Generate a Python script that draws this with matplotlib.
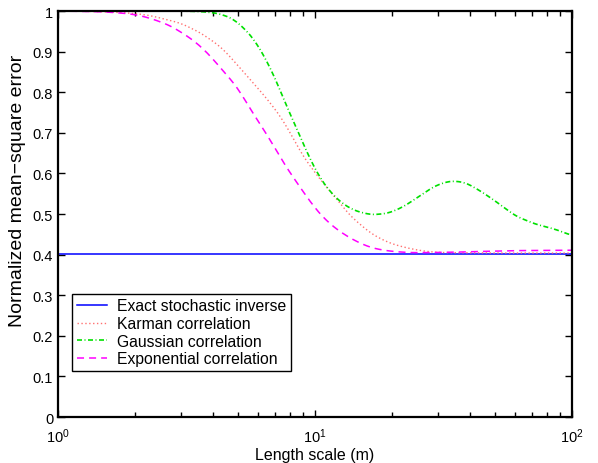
import numpy as np
import matplotlib
matplotlib.use("Agg")
import matplotlib.pyplot as plt
from matplotlib.ticker import LogLocator, NullFormatter, FixedLocator

plt.rcParams['font.family'] = ['Liberation Sans', 'DejaVu Sans']
plt.rcParams['mathtext.fontset'] = 'custom'
plt.rcParams['mathtext.rm'] = 'Liberation Sans'

# Exact stochastic inverse (constant)
exact_x = [1.0, 100.0]
exact_y = [0.402, 0.402]

# Karman correlation
karman_x = [1.0, 1.4, 1.82, 2.12, 2.32, 2.53, 2.77, 3.03, 3.29, 3.57, 3.87, 4.17, 4.47,
            4.88, 5.26, 5.59, 5.93, 6.29, 6.64, 7.10, 7.53, 7.99, 8.48, 8.87, 9.57, 10.16,
            11.11, 12.14, 13.28, 14.09, 15.42, 16.47, 17.9, 19.3, 21.1, 23.07, 25.2, 28.0,
            31.6, 36.7, 50.0, 70.0, 100.0]
karman_y = [1.0, 0.999, 0.996, 0.992, 0.988, 0.982, 0.976, 0.969, 0.958, 0.947, 0.932,
            0.918, 0.901, 0.874, 0.851, 0.831, 0.813, 0.795, 0.776, 0.753, 0.729, 0.701,
            0.672, 0.648, 0.619, 0.596, 0.566, 0.537, 0.506, 0.489, 0.468, 0.453, 0.44,
            0.430, 0.422, 0.416, 0.411, 0.407, 0.405, 0.405, 0.404, 0.404, 0.404]

# Gaussian correlation
gauss_x = [1.0, 2.0, 3.0, 3.57, 4.15, 4.74, 5.34, 5.88, 6.35, 6.79, 7.20, 7.64, 8.12,
           8.61, 9.14, 9.71, 10.45, 11.37, 12.7, 14.3, 16.6, 19.3, 22.1, 25.6, 29.4, 33.7,
           38.4, 44.0, 50.3, 60.4, 72.2, 85.7, 100.0]
gauss_y = [1.0, 1.0, 1.0, 0.999, 0.995, 0.983, 0.956, 0.924, 0.888, 0.852, 0.816, 0.775,
           0.738, 0.701, 0.664, 0.627, 0.590, 0.557, 0.527, 0.508, 0.498, 0.502, 0.518,
           0.545, 0.57, 0.582, 0.578, 0.557, 0.532, 0.495, 0.475, 0.463, 0.447]

# Exponential correlation
expo_x = [1.0, 1.3, 1.5, 1.69, 1.91, 2.15, 2.42, 2.73, 3.03, 3.36, 3.70, 4.02, 4.37,
          4.74, 5.11, 5.79, 6.24, 6.64, 7.10, 7.53, 8.06, 8.66, 9.28, 10.0, 10.87, 11.89,
          13.2, 14.66, 16.4, 18.4, 20.8, 23.8, 26.8, 34.5, 38.9, 60.0, 100.0]
expo_y = [1.0, 0.999, 0.998, 0.996, 0.993, 0.987, 0.977, 0.964, 0.947, 0.928, 0.905,
          0.881, 0.854, 0.829, 0.801, 0.744, 0.714, 0.685, 0.656, 0.627, 0.599, 0.570,
          0.543, 0.515, 0.489, 0.467, 0.447, 0.431, 0.418, 0.411, 0.407, 0.405, 0.405,
          0.406, 0.407, 0.410, 0.411]


def smooth(xs, ys, k=6):
    # light smoothing along log10(x) so the traced points read as a curve
    lx = np.log10(xs)
    grid = np.linspace(lx[0], lx[-1], 500)
    yy = np.interp(grid, lx, ys)
    pad = np.pad(yy, k, mode='edge')
    yy = np.convolve(pad, np.ones(2 * k + 1) / (2 * k + 1), mode='same')[k:-k]
    return 10 ** grid, yy


fig = plt.figure(figsize=(5.98, 4.64), dpi=100)
ax = fig.add_axes([0.097, 0.099, 0.8595, 0.875])

ax.plot(exact_x, exact_y, color='#0000ff', lw=1.1, label='Exact stochastic inverse')
ax.plot(*smooth(karman_x, karman_y), color='#ff7070', lw=1.0, ls=(0, (1, 1.8)),
        label='Karman correlation')
ax.plot(*smooth(gauss_x, gauss_y), color='#00e000', lw=1.2, ls=(0, (3, 1.5, 0.6, 1.5)),
        label='Gaussian correlation')
ax.plot(*smooth(expo_x, expo_y), color='#ff00ff', lw=1.1, ls=(0, (4.6, 3.3)),
        label='Exponential correlation')

ax.set_xscale('log')
ax.set_xlim(1, 100)
ax.set_ylim(0, 1)
ax.yaxis.set_major_locator(FixedLocator(np.arange(0, 1.01, 0.1)))
ax.set_yticklabels(['0', '0.1', '0.2', '0.3', '0.4', '0.5', '0.6', '0.7', '0.8', '0.9', '1'])
ax.xaxis.set_major_locator(LogLocator(base=10))
ax.xaxis.set_minor_locator(LogLocator(base=10, subs=np.arange(2, 10)))
ax.xaxis.set_minor_formatter(NullFormatter())
ax.tick_params(which='both', direction='in', top=True, right=True, labelsize=10.5)
ax.tick_params(axis='x', which='major', pad=7)
ax.tick_params(which='major', length=5, width=1)
ax.tick_params(which='minor', length=3.5, width=1)
for s in ax.spines.values():
    s.set_linewidth(1.6)

ax.set_xlabel('Length scale (m)', fontsize=11.5)
ax.xaxis.set_label_coords(0.5, -0.073)
ax.set_ylabel('Normalized mean\u2212square error', fontsize=14)
ax.yaxis.set_label_coords(-0.062, 0.56)

leg = ax.legend(loc='lower left', bbox_to_anchor=(0.027, 0.113), fontsize=11.3,
                fancybox=False, framealpha=1, edgecolor='black', borderpad=0.3,
                labelspacing=0.17, handlelength=1.95, handletextpad=0.65,
                borderaxespad=0)
leg.get_frame().set_linewidth(1.0)

fig.savefig('out.png', dpi=100)
